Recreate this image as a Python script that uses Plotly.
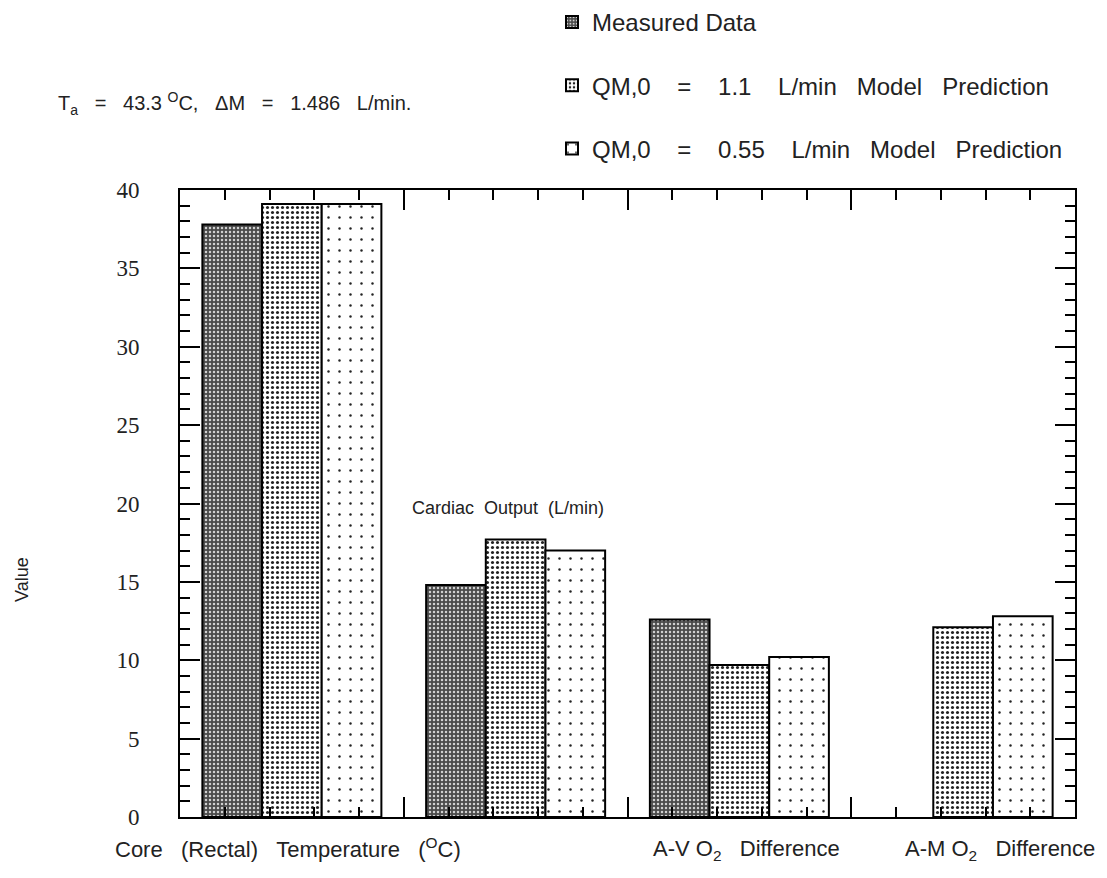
import plotly.graph_objects as go

categories = ["Core (Rectal) Temperature (°C)", "Cardiac Output (L/min)", "A-V O2 Difference", "A-M O2 Difference"]
S2 = "\u00a0\u00a0"
S3 = "\u00a0\u00a0\u00a0"
S4 = "\u00a0\u00a0\u00a0\u00a0"
series_names = ["Measured Data",
                f"QM,0{S4}={S4}1.1{S4}L/min{S3}Model{S3}Prediction",
                f"QM,0{S4}={S4}0.55{S4}L/min{S3}Model{S3}Prediction"]
measured = [37.8, 14.8, 12.6, None]
model_11 = [39.1, 17.7, 9.7, 12.1]
model_055 = [39.1, 17.0, 10.2, 12.8]
y_ticks = [0, 5, 10, 15, 20, 25, 30, 35, 40]

xpos = list(range(len(categories)))

patterns = [
    dict(shape=".", bgcolor="#4a4a4a", fgcolor="#d0d0d0", size=4, solidity=0.3, fillmode="replace"),
    dict(shape=".", bgcolor="#ffffff", fgcolor="#222222", size=5, solidity=0.3, fillmode="replace"),
    dict(shape=".", bgcolor="#ffffff", fgcolor="#222222", size=11, solidity=0.04, fillmode="replace"),
]

fig = go.Figure()
for i, (name, vals) in enumerate(zip(series_names, [measured, model_11, model_055])):
    fig.add_trace(go.Bar(
        x=xpos, y=vals, name=name, legendgroup=f"g{i}",
        marker=dict(color="white", pattern=patterns[i], line=dict(color="black", width=2)),
    ))

font_sans = "Liberation Sans, Arial, sans-serif"
font_serif = "Liberation Serif, Times New Roman, serif"

# page body has an 8px margin: figure is shifted by OFF px
OFF = 8
L, R, T, B = 180, 1075, 190, 817   # plot area in screen pixels
W = R - L
H = B - T
FW, FH = 1107 - OFF, 878 - OFF


def px(x):
    return (x - L) / W


def py(y):
    return (B - y) / H


fig.update_layout(
    width=FW, height=FH,
    margin=dict(l=L - OFF, r=FW - (R - OFF), t=T - OFF, b=FH - (B - OFF), autoexpand=False),
    paper_bgcolor="white", plot_bgcolor="white",
    barmode="group", bargap=0.2, bargroupgap=0,
    showlegend=True,
    legend=dict(x=px(552), y=py(0), xanchor="left", yanchor="top",
                font=dict(family=font_sans, size=24, color="#222"),
                tracegroupgap=29, bgcolor="rgba(0,0,0,0)", itemwidth=30),
    font=dict(family=font_sans, color="#222"),
)

fig.update_xaxes(
    range=[-0.5, 3.5], showline=True, linecolor="black", linewidth=2, mirror="ticks",
    tickmode="array", tickvals=[-0.5, 0.5, 1.5, 2.5, 3.5], ticks="inside", ticklen=20, tickwidth=2,
    tickcolor="black", showticklabels=False, showgrid=False, zeroline=False,
    minor=dict(tick0=-0.5, dtick=0.2, ticks="inside", ticklen=10, tickwidth=2, tickcolor="black", showgrid=False),
)
fig.update_yaxes(
    range=[0, 40], showline=True, linecolor="black", linewidth=2, mirror="ticks",
    tickmode="array", tickvals=y_ticks, ticktext=[str(v) for v in y_ticks],
    ticks="inside", ticklen=20, tickwidth=2, tickcolor="black",
    tickfont=dict(family=font_serif, size=23, color="#222"), ticklabelstandoff=34,
    showgrid=False, zeroline=False,
    minor=dict(dtick=1, ticks="inside", ticklen=10, tickwidth=2, tickcolor="black", showgrid=False),
)

# category labels
fig.add_annotation(x=px(288), y=py(848), xref="paper", yref="paper", xanchor="center", yanchor="middle",
                   text=f"Core{S3}(Rectal){S3}Temperature{S3}(<sup>O</sup>C)", showarrow=False,
                   font=dict(family=font_sans, size=22, color="#222"))
fig.add_annotation(x=px(508), y=py(508), xref="paper", yref="paper", xanchor="center", yanchor="middle",
                   text=f"Cardiac{S2}Output{S2}(L/min)", showarrow=False,
                   font=dict(family=font_sans, size=18, color="#222"))
fig.add_annotation(x=px(746), y=py(850), xref="paper", yref="paper", xanchor="center", yanchor="middle",
                   text=f"A-V O<sub>2</sub>{S3}Difference", showarrow=False,
                   font=dict(family=font_sans, size=22, color="#222"))
fig.add_annotation(x=px(1000), y=py(850), xref="paper", yref="paper", xanchor="center", yanchor="middle",
                   text=f"A-M O<sub>2</sub>{S3}Difference", showarrow=False,
                   font=dict(family=font_sans, size=22, color="#222"))

# y title
fig.add_annotation(x=px(22), y=py(580), xref="paper", yref="paper", xanchor="center", yanchor="middle",
                   text="Value", showarrow=False, textangle=-90,
                   font=dict(family=font_sans, size=18, color="#222"))

# condition annotation
fig.add_annotation(x=px(56), y=py(103), xref="paper", yref="paper", xanchor="left", yanchor="middle",
                   text=f"T<sub>a</sub>{S3}={S3}43.3 <sup>O</sup>C,{S3}ΔM{S3}={S3}1.486{S3}L/min.", showarrow=False,
                   font=dict(family=font_sans, size=20, color="#222"))

fig.write_html("out.html")
